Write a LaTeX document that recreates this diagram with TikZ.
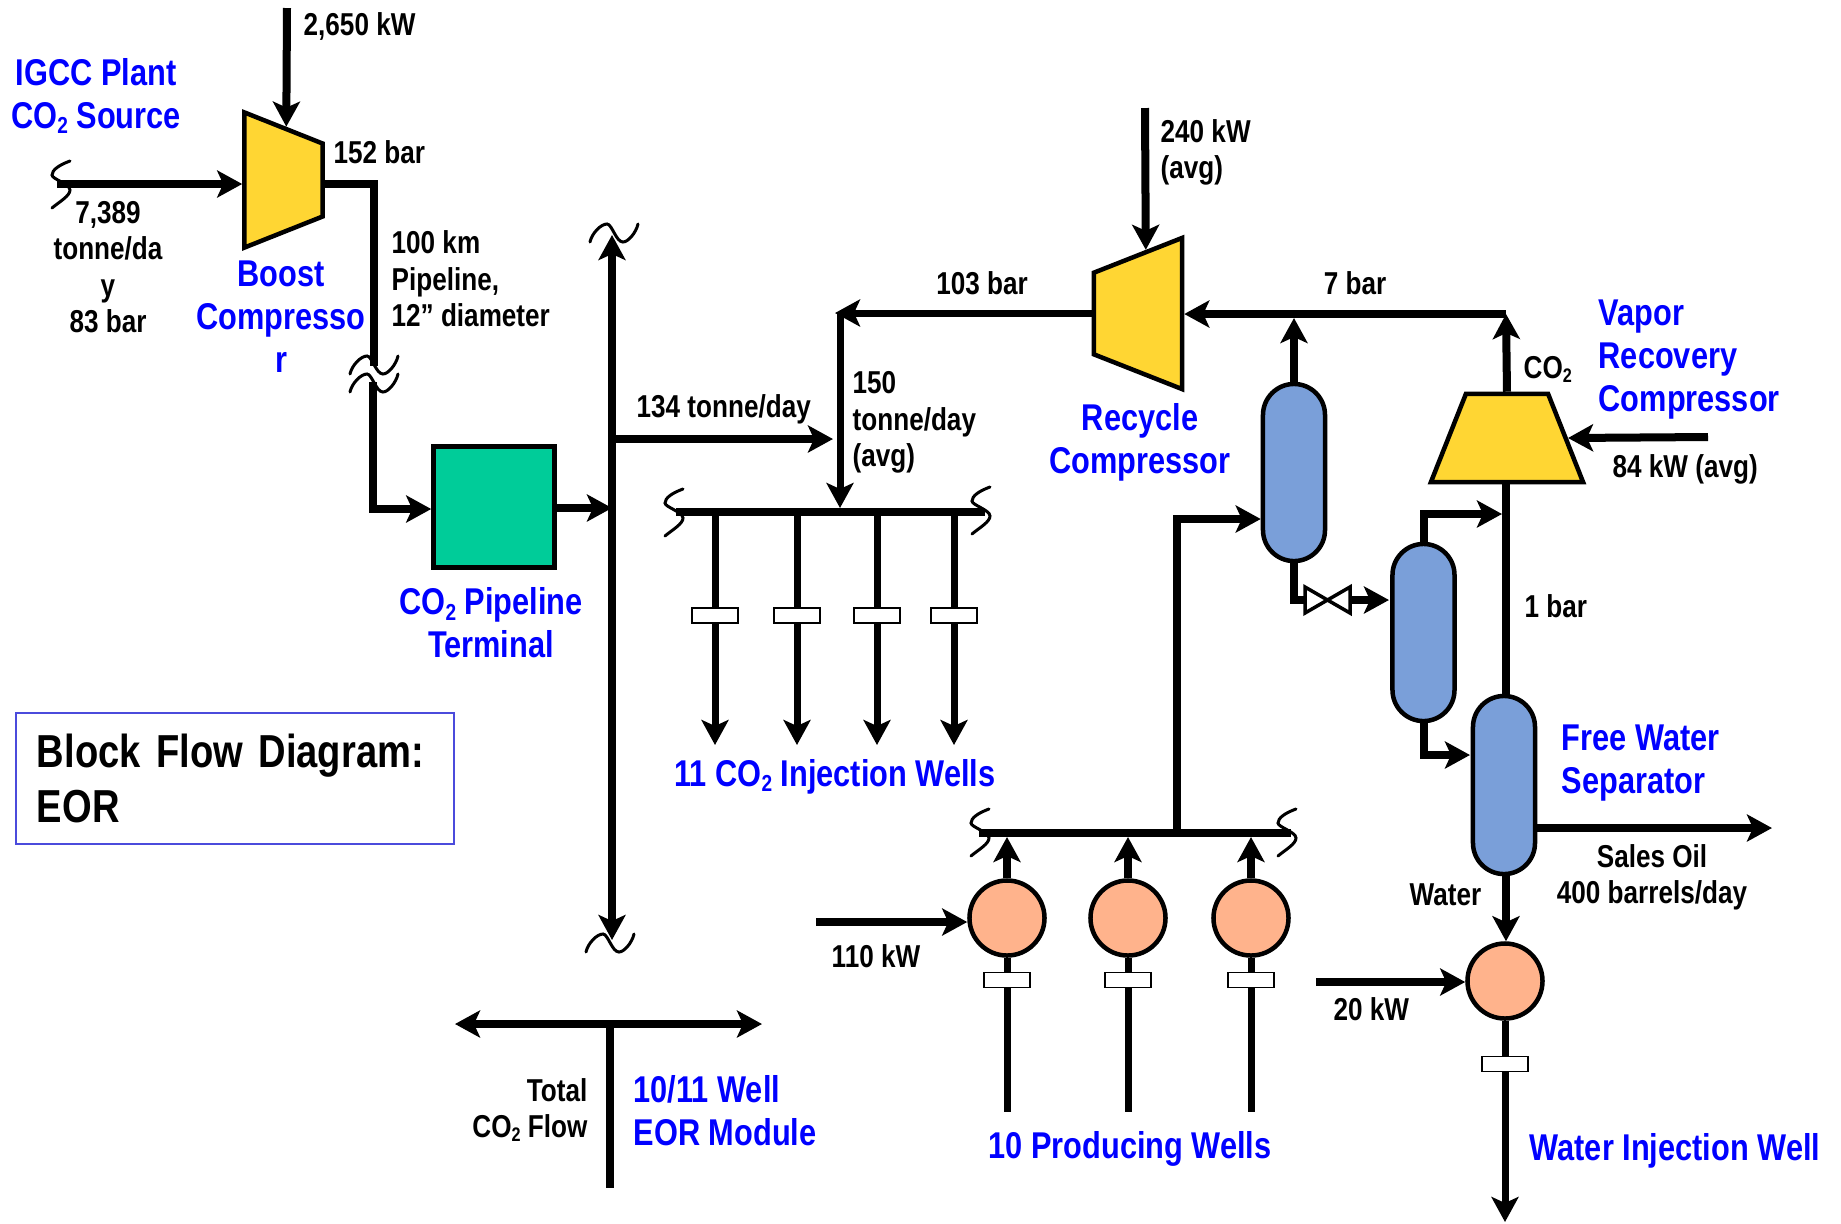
\documentclass[tikz,border=0pt]{standalone}
\usepackage{fontspec}
\setmainfont{Liberation Sans}[FakeStretch=0.825]
\usetikzlibrary{arrows.meta,positioning,shapes.geometric}
\definecolor{compyellow}{HTML}{FFD633}
\definecolor{termgreen}{HTML}{00CC99}
\definecolor{vesselblue}{HTML}{7A9FD9}
\definecolor{pumporange}{HTML}{FFB38C}
\definecolor{boxblue}{HTML}{4B4BDC}
\newcommand{\cotwo}{CO\raisebox{-.15em}{\scalebox{.62}{2}}}
\begin{document}
\begin{tikzpicture}[x=.01cm,y=-.01cm,>={Stealth[length=.25cm,width=.27cm,inset=.06cm]},
                    flow/.style={draw,line width=.08cm},
                    thin flow/.style={draw,line width=.07cm},
                    flow edges/.style={every edge/.style={flow,->}},
                    thin edges/.style={every edge/.style={thin flow}},
                    thin arrows/.style={every edge/.style={thin flow,->}},
                    brk/.style={draw,line width=.03cm,line cap=round},
                    comp/.style={trapezium,draw,fill=compyellow,line width=.045cm,inner sep=1pt,
                                 trapezium stretches=true,trapezium angle=67},
                    vessel/.style={draw,fill=vesselblue,line width=.045cm,rounded corners=.31cm,
                                   minimum width=.62cm,inner sep=0pt},
                    pump/.style={circle,draw,fill=pumporange,line width=.045cm,minimum size=.75cm,inner sep=0pt},
                    wellhead/.style={draw,fill=white,line width=.018cm,minimum width=.46cm,
                                     minimum height=.15cm,inner sep=0pt},
                    blk/.style={font=\fontsize{9}{10.24}\selectfont\bfseries,inner sep=0pt,align=center},
                    blu/.style={font=\fontsize{10.6}{12.1}\selectfont\bfseries,text=blue,inner sep=0pt,align=center},
                    hbrk/.pic={\path [brk] (-24,9) .. controls (-22,0) and (-13,-9) .. (-7,-9)
                                 .. controls (-2,-9) and (2,9) .. (9,9)
                                 .. controls (14,9) and (22,0) .. (24,-9);},
                    vbrk/.pic={\path [brk] (9,-23) .. controls (-2,-19) and (-9,-14) .. (-9,-9)
                                 .. controls (-9,-5) and (9,0) .. (9,6)
                                 .. controls (9,12) and (-2,18) .. (-9,24);}]
                \useasboundingbox (0,0) rectangle (1841,1223);
                \node [comp,shape border rotate=270,minimum width=1.35cm,minimum height=.78cm] (boost)   at (283.5,180)  {};
                \node [comp,shape border rotate=90,minimum width=1.51cm,minimum height=.88cm]  (recycle) at (1138,313.5) {};
                \node [comp,minimum width=1.52cm,minimum height=.88cm]                         (vapor)   at (1507,438)   {};
                \node [draw,fill=termgreen,line width=.045cm,minimum size=1.21cm,inner sep=0pt] (term)   at (494,507)    {};
                \node [vessel,minimum height=1.77cm] (sepa) at (1294,472.5) {};
                \node [vessel,minimum height=1.77cm] (sepb) at (1423.5,632.5) {};
                \node [vessel,minimum height=1.78cm] (sepc) at (1504,785) {};
                \node [pump] (pumpa) at (1007,918) {};
                \node [pump] (pumpb) at (1128,918) {};
                \node [pump] (pumpc) at (1251,918) {};
                \node [pump] (pumpd) at (1505,981) {};
                \node [wellhead] (wha) [below of=pumpa,node distance=.62cm] {};
                \node [wellhead] (whb) [below of=pumpb,node distance=.62cm] {};
                \node [wellhead] (whc) [below of=pumpc,node distance=.62cm] {};
                \node [wellhead] (whd) [below of=pumpd,node distance=.83cm] {};
                \node [wellhead] (inja) at (715,615.5) {};
                \node [wellhead] (injb) at (797,615.5) {};
                \node [wellhead] (injc) at (877,615.5) {};
                \node [wellhead] (injd) at (954,615.5) {};

                \coordinate (boostpow) at (287,8);
                \coordinate (boostin)  at (57,184);
                \coordinate (pipea)    at (374,184);
                \coordinate (pipeb)    at (374,366);
                \coordinate (pipec)    at (373,382);
                \coordinate (piped)    at (373,509);
                \coordinate (mainin)   at (612,508);
                \coordinate (maintop)  at (612,235);
                \coordinate (mainbot)  at (612,940);
                \coordinate (branch)   at (612,439);
                \coordinate (branchend) at (833,439);
                \coordinate (injl)     at (676,512);
                \coordinate (injr)     at (985,512);
                \coordinate (injfeed)  at (840,313);
                \coordinate (injtip)   at (840,508);
                \coordinate (injout)   at (835,313);
                \coordinate (injenda)  at (715,745);
                \coordinate (injendb)  at (797,745);
                \coordinate (injendc)  at (877,745);
                \coordinate (injendd)  at (954,745);
                \coordinate (recpow)   at (1145,108);
                \coordinate (recin)    at (1506,314);
                \coordinate (septop)   at (1294,318);
                \coordinate (vappow)   at (1708,437);
                \coordinate (sepain)   at (1177,519);
                \coordinate (prodl)    at (979,833);
                \coordinate (prodr)    at (1291,833);
                \coordinate (prodj)    at (1177,833);
                \coordinate (prodtip)  at (1128,837);
                \coordinate (valvel)   at (1305,600);
                \coordinate (valver)   at (1350,600);
                \coordinate (sepbin)   at (1389,600);
                \coordinate (sepbtop)  at (1423.5,514);
                \coordinate (vapin)    at (1502,514);
                \coordinate (sepbbot)  at (1423.5,755);
                \coordinate (sepcin)   at (1470,755);
                \coordinate (oilout)   at (1772,828);
                \coordinate (powd)     at (1316,982);
                \coordinate (powa)     at (816,922);
                \coordinate (wella)    at (1007,1112);
                \coordinate (wellb)    at (1128,1112);
                \coordinate (wellc)    at (1251,1112);
                \coordinate (welld)    at (1505,1222);
                \coordinate (keyl)     at (455,1024);
                \coordinate (keyr)     at (762,1024);
                \coordinate (keyj)     at (610,1024);
                \coordinate (keybot)   at (610,1188);

                \path [flow edges] (boostpow) edge (boost.87)
                                   (boostin)  edge (boostin -| boost.west);
                \path [flow] (pipea -| boost.east) -- (pipea) -- (pipeb);
                \path [flow,->] (pipec) -- (piped) -- (term.west |- piped);
                \path [flow,->] (term.east |- mainin) -- (mainin);
                \path [flow,<->] (mainbot) -- (maintop);
                \path [flow,->] (branch) -- (branchend);
                \path [flow] (injl) -- (injr);
                \path [thin flow,->] (injfeed) -- (injtip);
                \path [thin flow,->] (recycle.west |- injout) -- (injout);
                \path [thin edges] (inja |- injl) edge (inja) (injb |- injl) edge (injb)
                                   (injc |- injl) edge (injc) (injd |- injl) edge (injd);
                \path [thin arrows] (inja) edge (injenda) (injb) edge (injendb)
                                    (injc) edge (injendc) (injd) edge (injendd);
                \path [flow edges] (recpow) edge (recycle.83)
                                   (recin)  edge (recycle.east |- recin)
                                   (vappow) edge (vapor.east)
                                   (vapor.north) edge (recin)
                                   (sepa.north)  edge (septop);
                \path [flow,->] (prodj) -- (sepain) -- (sepa.west |- sepain);
                \path [flow] (prodl) -- (prodr);
                \path [flow edges] (pumpa) edge (pumpa |- prodtip)
                                   (pumpb) edge (pumpb |- prodtip)
                                   (pumpc) edge (pumpc |- prodtip);
                \path [thin edges] (pumpa) edge (wha) (pumpb) edge (whb) (pumpc) edge (whc) (pumpd) edge (whd)
                                   (wha) edge (wella) (whb) edge (wellb) (whc) edge (wellc);
                \path [thin flow,->] (whd) -- (welld);
                \path [flow edges] (powa) edge (pumpa.west |- powa)
                                   (powd) edge (pumpd.west |- powd);
                \path [flow] (sepa.south) -- (sepa.south |- valvel) -- (valvel);
                \path [flow,->] (valver) -- (sepbin);
                \draw [line width=.035cm,fill=white] (1305,587) -- (1305,613) -- (1350,587) -- (1350,613) -- cycle;
                \path [flow,->] (sepb.north) -- (sepbtop) -- (vapin);
                \path [flow,->] (sepb.south) -- (sepbbot) -- (sepcin);
                \path [flow] (recin |- vapor.south) -- (recin |- sepc.north);
                \path [flow,->] (recin |- sepc.south) -- (recin |- pumpd.north);
                \path [flow,->] (sepc.east |- oilout) -- (oilout);
                \path [flow,<->] (keyl) -- (keyr);
                \path [flow] (keyj) -- (keybot);

                \pic at (61,184) {vbrk};
                \pic at (674,512) {vbrk};
                \pic at (981,510) {vbrk};
                \pic at (980,832) {vbrk};
                \pic at (1287,832) {vbrk};
                \pic at (374,365) {hbrk};
                \pic at (374,383) {hbrk};
                \pic at (614,233) {hbrk};
                \pic at (610,943) {hbrk};

                \node [blu,anchor=base] (igcc) at (96,128) {IGCC Plant\\\cotwo{} Source};
                \node [blu,anchor=base] (boostlab) at (281,372) {Boost\\Compresso\\r};
                \node [blu,anchor=base] (termlab) at (491,657) {\cotwo{} Pipeline\\Terminal};
                \node [blu,anchor=base] (reclab) at (1140,473) {Recycle\\Compressor};
                \node [blu,anchor=base west,align=left] (vaplab) at (1598,411) {Vapor\\Recovery\\Compressor};
                \node [blu,anchor=base west,align=left] (freelab) at (1561,793.5) {Free Water\\Separator};
                \node [blu,anchor=base] (injlab) at (835,786) {11 \cotwo{} Injection Wells};
                \node [blu,anchor=base] (prodlab) at (1130,1158) {10 Producing Wells};
                \node [blu,anchor=base west] (watlab) at (1529,1160) {Water Injection Well};
                \node [blu,anchor=base west,align=left] (modlab) at (633,1145) {10/11 Well\\EOR Module};

                \node [blk,anchor=base west] (boostkw) at (303,35) {2,650 kW};
                \node [blk,anchor=base west] (bar152) at (333,163) {152 bar};
                \node [blk,anchor=base] (srcflow) at (108,332) {7,389\\tonne/da\\y\\83 bar};
                \node [blk,anchor=base west,align=left] (pipelab) at (391,326) {100 km\\Pipeline,\\12” diameter};
                \node [blk,anchor=base west] (flow134) at (636,417) {134 tonne/day};
                \node [blk,anchor=base west,align=left] (flow150) at (852,466) {150\\tonne/day\\(avg)};
                \node [blk,anchor=base] (bar103) at (982,294) {103 bar};
                \node [blk,anchor=base] (bar7) at (1355,294) {7 bar};
                \node [blk,anchor=base west,align=left] (reckw) at (1160,178) {240 kW\\(avg)};
                \node [blk,anchor=base west] (colab) at (1523,378) {\cotwo};
                \node [blk,anchor=base west] (vapkw) at (1612,477) {84 kW (avg)};
                \node [blk,anchor=base west] (bar1) at (1524,617) {1 bar};
                \node [blk,anchor=base] (oillab) at (1652,903) {Sales Oil\\400 barrels/day};
                \node [blk,anchor=base east] (watname) at (1482,905) {Water};
                \node [blk,anchor=base west] (kw110) at (831,967) {110 kW};
                \node [blk,anchor=base west] (kw20) at (1333,1020) {20 kW};
                \node [blk,anchor=base east,align=right] (totlab) at (588,1137) {Total\\\cotwo{} Flow};

                \node [draw=boxblue,line width=.02cm,inner xsep=.21cm,inner ysep=0pt,text width=3.96cm,
                       minimum height=1.30cm,align=left,font=\fontsize{13.15}{15.6}\selectfont\bfseries]
                       (title) at (235,778.5) {Block Flow Diagram:\\EOR};
            \end{tikzpicture}
\end{document}
